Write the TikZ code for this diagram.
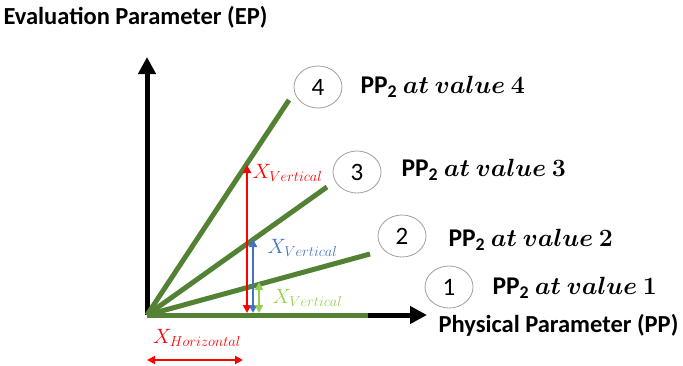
\documentclass[tikz,border=0pt]{standalone}
\usepackage{amsmath}
\usepackage{bm}
\usepackage{fontspec}
\setmainfont{Carlito}
\usetikzlibrary{arrows.meta,shapes.geometric}
\definecolor{epgreen}{RGB}{84, 130, 53}
\definecolor{eplime}{RGB}{146, 208, 80}
\definecolor{epblue}{RGB}{68, 114, 196}
\definecolor{epred}{RGB}{255, 0, 0}
\definecolor{epgray}{RGB}{160, 160, 160}
\begin{document}
\begin{tikzpicture}[x=1pt, y=-1pt,
    axis/.style={line width=5pt, -{Triangle[length=17pt, width=17pt]}},
    curve/.style={line width=5pt, color=epgreen},
    numcirc/.style={ellipse, draw=epgray, line width=0.8pt, minimum width=48pt,
                    minimum height=42pt, inner sep=0pt, font=\fontsize{25}{28}\selectfont},
    pplbl/.style={anchor=west, font=\fontsize{25.5}{28}\selectfont\bfseries},
    axlbl/.style={anchor=west, font=\fontsize{24.5}{28}\selectfont\bfseries},
    dimarr/.style={line width=2.5pt, {Triangle[length=8pt, width=8pt]}-{Triangle[length=8pt, width=8pt]}},
    xlbl/.style={font=\fontsize{21}{24}\selectfont}
  ]
    \useasboundingbox (0,0) rectangle (683,365);

    \coordinate (O)    at (147,315);
    \coordinate (ytip) at (147,57);
    \coordinate (xtip) at (427,315);
    \coordinate (e4)   at (289,100);
    \coordinate (e3)   at (327,187);
    \coordinate (e2)   at (370,254);
    \coordinate (e1)   at (368,315);

    \draw[axis] (O) -- (ytip);
    \draw[axis] (O) -- (xtip);
    \draw[curve] (O) -- (e4);
    \draw[curve] (O) -- (e3);
    \draw[curve] (O) -- (e2);
    \draw[curve] (O) -- (e1);

    \node[axlbl] (ep) at (0,17)    {Evaluation Parameter (EP)};
    \node[axlbl] (pp) at (435,325) {Physical Parameter (PP)};

    \node[numcirc] (c4) at (318,87)  {4};
    \node[numcirc] (c3) at (357,172) {3};
    \node[numcirc] (c2) at (402,236) {2};
    \node[numcirc] (c1) at (449,287) {1};

    \node[pplbl] (l4) at (357,87)  {PP$_{\mathbf{2}}$ $\bm{at\ value\ 4}$};
    \node[pplbl] (l3) at (398,170) {PP$_{\mathbf{2}}$ $\bm{at\ value\ 3}$};
    \node[pplbl] (l2) at (445,240) {PP$_{\mathbf{2}}$ $\bm{at\ value\ 2}$};
    \node[pplbl] (l1) at (489,288) {PP$_{\mathbf{2}}$ $\bm{at\ value\ 1}$};

    \coordinate (r0) at (247,313);
    \coordinate (r1) at (247,165);
    \coordinate (b0) at (253,313);
    \coordinate (b1) at (253,239);
    \coordinate (g0) at (259,313);
    \coordinate (g1) at (259,282);
    \coordinate (h0) at (147,360);
    \coordinate (h1) at (243,360);

    \draw[dimarr, epred]  (r0) -- (r1);
    \draw[dimarr, epblue] (b0) -- (b1);
    \draw[dimarr, eplime] (g0) -- (g1);
    \draw[dimarr, epred]  (h0) -- (h1);

    \node[xlbl, text=epred, anchor=west]  (xv4) at (249,173) {$X_{Vertical}$};
    \node[xlbl, text=epblue, anchor=west] (xv3) at (264,248) {$X_{Vertical}$};
    \node[xlbl, text=eplime, anchor=west] (xv2) at (269,298) {$X_{Vertical}$};
    \node[xlbl, text=epred]               (xh)  at (197,338) {$X_{Horizontal}$};
\end{tikzpicture}
\end{document}
